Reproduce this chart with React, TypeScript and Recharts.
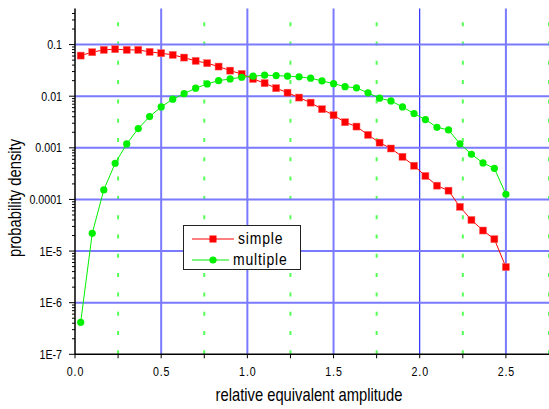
import React from 'react';
import { LineChart, Line, XAxis, YAxis, ReferenceLine, Legend } from 'recharts';

const xValues = [0.033, 0.1, 0.167, 0.233, 0.3, 0.367, 0.433, 0.5, 0.567, 0.633, 0.7, 0.767, 0.833, 0.9, 0.967,
  1.033, 1.1, 1.167, 1.233, 1.3, 1.367, 1.433, 1.5, 1.567, 1.633, 1.7, 1.767, 1.833, 1.9, 1.967,
  2.033, 2.1, 2.167, 2.233, 2.3, 2.367, 2.433, 2.5];

const simpleValues = [0.0612, 0.0712, 0.0789, 0.0815, 0.0789, 0.0789, 0.0722, 0.0681, 0.0631, 0.056, 0.0483, 0.0436, 0.0375, 0.0313, 0.027,
  0.0216, 0.0179, 0.0143, 0.0117, 0.0094, 0.0075, 0.0056, 0.00428, 0.00313, 0.00258, 0.00178, 0.00126, 0.00097, 0.00067, 0.00045,
  0.000285, 0.000185, 0.000148, 7.2e-5, 4.0e-5, 2.5e-5, 1.7e-5, 4.9e-6];

const multipleValues = [4.17e-7, 2.21e-5, 1.53e-4, 5.03e-4, 1.19e-3, 2.36e-3, 4.03e-3, 6.2e-3, 8.75e-3, 0.0112, 0.0143, 0.0173, 0.02, 0.0216, 0.0233,
  0.0244, 0.0255, 0.0251, 0.0244, 0.0237, 0.0223, 0.0198, 0.0175, 0.0153, 0.0145, 0.0116, 0.00914, 0.0081, 0.0062, 0.0046,
  0.00352, 0.0025, 0.00222, 0.0012, 7.5e-4, 5.1e-4, 4.0e-4, 1.26e-4];

const xTicks = [0, 0.25, 0.5, 0.75, 1.0, 1.25, 1.5, 1.75, 2.0, 2.25, 2.5];
const xMajorTicks = [0, 0.5, 1.0, 1.5, 2.0, 2.5];
const xTickLabels = ['0.0', '0.5', '1.0', '1.5', '2.0', '2.5'];
const xMinorGrid = [0.25, 0.75, 1.25, 1.75, 2.25, 2.75];

const yMajorTicks = [1e-7, 1e-6, 1e-5, 1e-4, 1e-3, 1e-2, 1e-1];
const yTickLabels = ['1E-7', '1E-6', '1E-5', '0.0001', '0.001', '0.01', '0.1'];
const yMinorMultipliers = [2, 3, 4, 5, 6, 7, 8, 9];

const seriesNames = ['simple', 'multiple'];
const seriesColors = ['#ff0000', '#00f000'];

const data = xValues.map((x, i) => ({ x, simple: simpleValues[i], multiple: multipleValues[i] }));

const yTicks: number[] = [];
yMajorTicks.forEach((m) => {
  yTicks.push(m);
  yMinorMultipliers.forEach((k) => {
    const v = m * k;
    if (v < 0.5) yTicks.push(v);
  });
});

const FONT = "'Liberation Sans', Arial, sans-serif";
const SX = 0.82;

const XTick = (props: any) => {
  const { x, y, payload } = props;
  const idx = xMajorTicks.indexOf(payload.value);
  return (
    <g>
      <line x1={x} x2={x} y1={y} y2={y + 4} stroke="#000" strokeWidth={1} />
      {idx >= 0 && (
        <text x={0} y={0} transform={`translate(${x + 0.5},${y + 22}) scale(${SX},1)`} textAnchor="middle" fontFamily={FONT} fontSize={13} letterSpacing={1.1} fill="#000">
          {xTickLabels[idx]}
        </text>
      )}
    </g>
  );
};

const YTick = (props: any) => {
  const { x, y, payload } = props;
  const idx = yMajorTicks.indexOf(payload.value);
  const len = idx >= 0 ? 6 : 3;
  return (
    <g>
      <line x1={x - len} x2={x} y1={y} y2={y} stroke="#000" strokeWidth={1} />
      {idx >= 0 && (
        <text x={0} y={0} transform={`translate(${x - 13},${y + 4.6}) scale(${SX},1)`} textAnchor="end" fontFamily={FONT} fontSize={13} fill="#000">
          {yTickLabels[idx]}
        </text>
      )}
    </g>
  );
};

const SquareDot = (props: any) => {
  const { cx, cy } = props;
  if (cx == null || cy == null) return null;
  return <rect x={cx - 3.5} y={cy - 3.5} width={7} height={7} fill="#ff0000" stroke="#ff6060" strokeWidth={0.5} />;
};

const CircleDot = (props: any) => {
  const { cx, cy } = props;
  if (cx == null || cy == null) return null;
  return <circle cx={cx} cy={cy} r={3.6} fill="#00f000" />;
};

const LegendContent = () => (
  <div
    style={{
      boxSizing: 'border-box',
      width: 118,
      height: 45,
      border: '1.3px solid #222',
      background: '#fff',
      paddingTop: 2,
    }}
  >
    {seriesNames.map((name, i) => (
      <div key={name} style={{ display: 'flex', alignItems: 'center', height: 21, marginLeft: 8 }}>
        <svg width={42} height={12} style={{ display: 'block' }}>
          <line x1={0} x2={42} y1={6} y2={6} stroke={seriesColors[i]} strokeWidth={1} />
          {i === 0 ? (
            <rect x={17.5} y={2.5} width={7} height={7} fill={seriesColors[i]} />
          ) : (
            <circle cx={21} cy={6} r={3.6} fill={seriesColors[i]} />
          )}
        </svg>
        <span
          style={{
            marginLeft: 4,
            display: 'inline-block',
            transform: `scaleX(${SX})`,
            transformOrigin: 'left center',
            whiteSpace: 'nowrap',
            fontFamily: FONT,
            fontSize: 17,
            letterSpacing: 1,
            color: '#000',
            lineHeight: '21px',
          }}
        >
          {name}
        </span>
      </div>
    ))}
  </div>
);

export default function App() {
  return (
    <div style={{ position: 'absolute', left: 0, top: 0, width: 549, height: 409, background: '#fff' }}>
      <LineChart width={549} height={409} data={data} margin={{ top: 8.5, right: 0, bottom: 0, left: 0 }}>
        <XAxis
          xAxisId="bottom"
          dataKey="x"
          type="number"
          domain={[0, 2.75]}
          ticks={xTicks}
          interval={0}
          allowDataOverflow
          tickSize={0}
          tickMargin={0}
          tickLine={false}
          tick={<XTick />}
          axisLine={{ stroke: '#000', strokeWidth: 1.5 }}
          height={54.7}
          label={{
            content: (p: any) => {
              const vb = p.viewBox || { x: 75, width: 474 };
              const cx = vb.x + vb.width / 2 - 3;
              return (
                <text x={0} y={0} transform={`translate(${cx},401) scale(${SX},1)`} textAnchor="middle" fontFamily={FONT} fontSize={18} fill="#000">
                  relative equivalent amplitude
                </text>
              );
            },
          }}
        />
        <XAxis xAxisId="top" orientation="top" type="number" dataKey="x" domain={[0, 2.75]} allowDataOverflow tick={false} tickLine={false} height={0} axisLine={{ stroke: '#000', strokeWidth: 1.5 }} />
        <YAxis
          type="number"
          scale="log"
          domain={[1e-7, 0.5]}
          allowDataOverflow
          ticks={yTicks}
          interval={0}
          width={75}
          tickSize={0}
          tickMargin={0}
          tickLine={false}
          tick={<YTick />}
          axisLine={{ stroke: '#000', strokeWidth: 1.5 }}
          label={{
            content: () => (
              <text x={0} y={0} transform={`translate(21,198) rotate(-90) scale(${SX},1)`} textAnchor="middle" fontFamily={FONT} fontSize={18} fill="#000">
                probability density
              </text>
            ),
          }}
        />
        {xMinorGrid.map((v) => (
          <ReferenceLine key={'gx' + v} xAxisId="bottom" x={v} stroke="#55ff55" strokeWidth={2} strokeDasharray="4 15.3" />
        ))}
        {xMajorTicks.slice(1).map((v) => (
          <ReferenceLine key={'bx' + v} xAxisId="bottom" x={v} stroke={v === 2.0 ? '#0000ff' : '#7a7aff'} strokeWidth={v === 2.0 ? 1 : 2} />
        ))}
        {yMajorTicks.slice(1).map((v) => (
          <ReferenceLine key={'by' + v} xAxisId="bottom" y={v} stroke="#7a7aff" strokeWidth={2} />
        ))}
        <Line xAxisId="bottom" type="linear" dataKey="simple" name="simple" stroke="#ff0000" strokeWidth={1} dot={<SquareDot />} isAnimationActive={false} />
        <Line xAxisId="bottom" type="linear" dataKey="multiple" name="multiple" stroke="#00f000" strokeWidth={1} dot={<CircleDot />} isAnimationActive={false} />
        <Legend
          layout="horizontal"
          verticalAlign="middle"
          align="center"
          content={<LegendContent />}
          wrapperStyle={{ left: 183, top: 225, width: 118, height: 45 }}
        />
      </LineChart>
    </div>
  );
}
